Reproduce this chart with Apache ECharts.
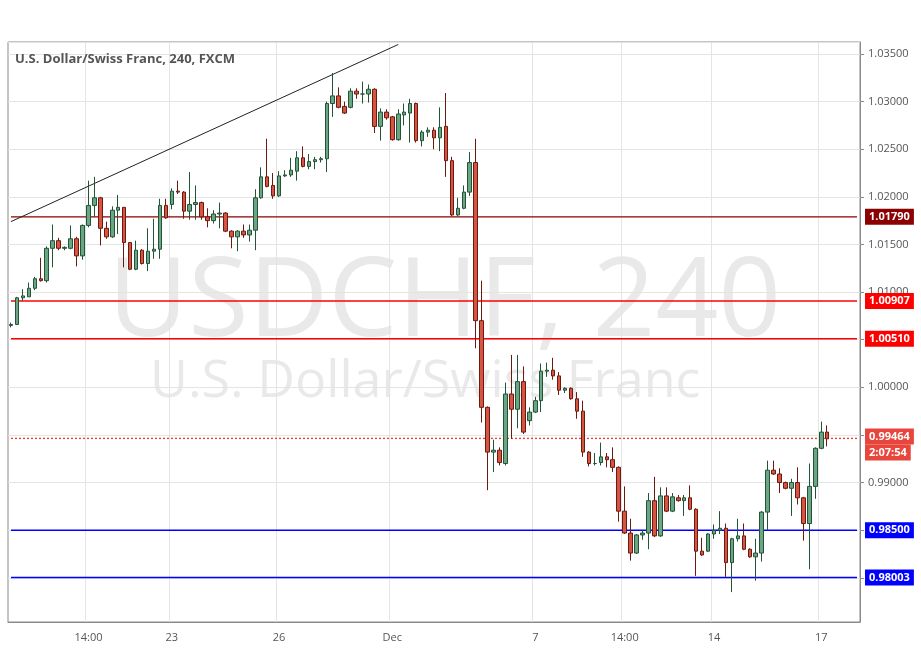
<!DOCTYPE html>
<html>
<head>
<meta charset="utf-8">
<script src="https://cdn.jsdelivr.net/npm/echarts@6/dist/echarts.min.js"></script>
<style>html,body{margin:0;padding:0;background:#fff;}#main{width:921px;height:651px;}</style>
</head>
<body>
<div id="main"></div>
<script>
// 4h candles: [open, close, low, high]
var candles = [
[1.0065,1.0066,1.0063,1.0068],[1.0066,1.0094,1.0066,1.0095],[1.0094,1.0096,1.0091,1.0103],[1.0095,1.0104,1.0095,1.0110],
[1.0104,1.0114,1.0102,1.0116],[1.0114,1.0112,1.0111,1.0136],[1.0112,1.0146,1.0110,1.0148],[1.0146,1.0154,1.0126,1.0171],
[1.0154,1.0146,1.0144,1.0157],[1.0146,1.0147,1.0144,1.0148],[1.0146,1.0156,1.0145,1.0170],[1.0156,1.0138,1.0127,1.0158],
[1.0138,1.0170,1.0134,1.0171],[1.0170,1.0191,1.0168,1.0217],[1.0191,1.0199,1.0179,1.0221],[1.0199,1.0167,1.0149,1.0200],
[1.0167,1.0158,1.0156,1.0174],[1.0158,1.0186,1.0157,1.0190],[1.0186,1.0189,1.0161,1.0202],[1.0189,1.0152,1.0126,1.0189],
[1.0152,1.0124,1.0123,1.0152],[1.0124,1.0144,1.0123,1.0154],[1.0144,1.0130,1.0129,1.0145],[1.0130,1.0143,1.0122,1.0167],
[1.0143,1.0145,1.0135,1.0177],[1.0145,1.0191,1.0135,1.0198],[1.0191,1.0178,1.0177,1.0198],[1.0192,1.0206,1.0187,1.0209],
[1.0206,1.0205,1.0203,1.0217],[1.0205,1.0185,1.0177,1.0206],[1.0185,1.0192,1.0176,1.0226],[1.0192,1.0194,1.0176,1.0212],
[1.0194,1.0179,1.0176,1.0195],[1.0179,1.0175,1.0168,1.0188],[1.0175,1.0182,1.0172,1.0186],[1.0182,1.0183,1.0167,1.0194],
[1.0183,1.0164,1.0163,1.0184],[1.0164,1.0158,1.0146,1.0165],[1.0158,1.0164,1.0143,1.0165],[1.0164,1.0160,1.0157,1.0171],
[1.0160,1.0165,1.0153,1.0171],[1.0165,1.0199,1.0144,1.0208],[1.0199,1.0221,1.0198,1.0231],[1.0221,1.0211,1.0210,1.0261],
[1.0212,1.0201,1.0198,1.0225],[1.0201,1.0222,1.0200,1.0227],[1.0222,1.0223,1.0221,1.0228],[1.0223,1.0228,1.0221,1.0241],
[1.0227,1.0241,1.0217,1.0248],[1.0241,1.0232,1.0231,1.0253],[1.0232,1.0237,1.0229,1.0245],[1.0237,1.0239,1.0229,1.0242],
[1.0239,1.0240,1.0236,1.0242],[1.0240,1.0298,1.0226,1.0300],[1.0298,1.0306,1.0284,1.0330],[1.0306,1.0294,1.0293,1.0315],
[1.0295,1.0288,1.0287,1.0300],[1.0294,1.0311,1.0293,1.0314],[1.0311,1.0308,1.0303,1.0314],[1.0308,1.0308,1.0298,1.0321],
[1.0308,1.0313,1.0299,1.0318],[1.0313,1.0274,1.0267,1.0314],[1.0274,1.0289,1.0259,1.0293],[1.0289,1.0283,1.0281,1.0292],
[1.0284,1.0260,1.0259,1.0285],[1.0260,1.0287,1.0259,1.0292],[1.0286,1.0289,1.0275,1.0298],[1.0288,1.0298,1.0257,1.0303],
[1.0298,1.0259,1.0257,1.0299],[1.0259,1.0268,1.0253,1.0270],[1.0268,1.0270,1.0263,1.0273],[1.0270,1.0262,1.0250,1.0273],
[1.0262,1.0273,1.0248,1.0294],[1.0274,1.0238,1.0221,1.0309],[1.0238,1.0181,1.0180,1.0242],[1.0181,1.0188,1.0180,1.0199],
[1.0188,1.0205,1.0187,1.0212],[1.0205,1.0236,1.0201,1.0247],[1.0236,1.0070,1.0041,1.0261],[1.0070,0.9979,0.9963,1.0112],
[0.9979,0.9932,0.9892,0.9980],[0.9932,0.9934,0.9911,0.9945],[0.9934,0.9921,0.9918,0.9937],[0.9920,0.9993,0.9918,1.0005],
[0.9993,0.9977,0.9946,1.0034],[0.9977,1.0006,0.9957,1.0034],[1.0006,0.9953,0.9951,1.0022],[0.9965,0.9974,0.9960,0.9979],
[0.9974,0.9986,0.9973,0.9990],[0.9986,1.0017,0.9974,1.0025],[1.0017,1.0018,1.0011,1.0026],[1.0018,1.0012,1.0008,1.0031],
[1.0012,0.9997,0.9992,1.0016],[0.9997,0.9999,0.9994,1.0000],[0.9999,0.9988,0.9987,1.0000],[0.9988,0.9975,0.9967,0.9995],
[0.9975,0.9932,0.9927,0.9986],[0.9932,0.9920,0.9917,0.9933],[0.9920,0.9920,0.9918,0.9931],[0.9921,0.9927,0.9918,0.9942],
[0.9927,0.9924,0.9916,0.9931],[0.9924,0.9916,0.9911,0.9937],[0.9916,0.9870,0.9859,0.9917],[0.9870,0.9847,0.9846,0.9896],
[0.9847,0.9826,0.9818,0.9862],[0.9826,0.9845,0.9825,0.9846],[0.9845,0.9847,0.9840,0.9850],[0.9847,0.9881,0.9830,0.9889],
[0.9881,0.9844,0.9843,0.9906],[0.9844,0.9886,0.9843,0.9895],[0.9886,0.9870,0.9869,0.9895],[0.9870,0.9885,0.9869,0.9889],
[0.9884,0.9881,0.9880,0.9887],[0.9881,0.9884,0.9865,0.9887],[0.9884,0.9872,0.9871,0.9897],[0.9872,0.9828,0.9802,0.9873],
[0.9828,0.9824,0.9823,0.9842],[0.9828,0.9846,0.9827,0.9847],[0.9846,0.9850,0.9841,0.9856],[0.9850,0.9852,0.9846,0.9870],
[0.9852,0.9816,0.9801,0.9857],[0.9816,0.9841,0.9785,0.9842],[0.9841,0.9844,0.9838,0.9862],[0.9844,0.9830,0.9829,0.9857],
[0.9830,0.9822,0.9821,0.9831],[0.9822,0.9826,0.9797,0.9841],[0.9826,0.9869,0.9817,0.9870],[0.9869,0.9913,0.9850,0.9923],
[0.9913,0.9909,0.9908,0.9923],[0.9909,0.9900,0.9889,0.9915],[0.9900,0.9894,0.9893,0.9901],[0.9894,0.9900,0.9865,0.9904],
[0.9900,0.9884,0.9877,0.9916],[0.9884,0.9857,0.9839,0.9885],[0.9857,0.9896,0.9809,0.9920],[0.9896,0.9936,0.9883,0.9937],
[0.9936,0.9953,0.9935,0.9964],[0.9953,0.9946,0.9938,0.9960]
];
var padSlots = 5;
var timeLabels = {13:'14:00', 27:'23', 45:'26', 64:'Dec', 88:'7', 103:'14:00', 118:'14', 136:'17'};
var levelValues = [1.0179, 1.00907, 1.0051, 0.9850, 0.98003];
var levelColors = ['#8b0000', '#ff0000', '#ff0000', '#0000ff', '#0000ff'];
var lastPrice = 0.99464;
var countdown = '2:07:54';
var trendStart = [0, 1.0174];
var trendEnd = [65, 1.0360];

var categories = [];
for (var i = 0; i < candles.length + padSlots; i++) categories.push(String(i));
var lastCat = categories.length - 1;

function levelSeries(v, col, dash, labelFmt, rich) {
	return {
		type : 'line', z : 4, silent : true, showSymbol : false, symbol : 'none', color : col,
		data : [[0, v], [lastCat, v]],
		lineStyle : { color : col, width : 1.4, type : dash },
		endLabel : {
			show : true, formatter : labelFmt, distance : 8,
			color : '#fff', backgroundColor : rich ? 'transparent' : col, padding : rich ? [12, 0, 0, 0] : [3, 4, 2, 4],
			fontSize : 11, fontWeight : 'bold', rich : rich
		},
		emphasis : { disabled : true }
	};
}

var series = [ {
	type : 'candlestick',
	data : candles,
	barWidth : 4,
	z : 5,
	itemStyle : {
		color : '#6ba583', color0 : '#d75442',
		borderColor : '#225437', borderColor0 : '#6b1a10', borderWidth : 1
	},
	markLine : {
		symbol : ['none', 'none'], silent : true, animation : false,
		lineStyle : { color : '#222', width : 1, type : 'solid' },
		label : { show : false },
		data : [ [ { coord : trendStart }, { coord : trendEnd } ] ]
	}
} ];
for (var k = 0; k < levelValues.length; k++) {
	series.push(levelSeries(levelValues[k], levelColors[k], 'solid', levelValues[k].toFixed(5)));
}
var tagStyle = { color : '#fff', backgroundColor : '#e8453c', padding : [3, 4, 2, 4], fontSize : 11, fontWeight : 'bold' };
series.push(levelSeries(lastPrice, '#e8453c', [2, 2], '{a|' + lastPrice.toFixed(5) + '}\n{b|' + countdown + '}', { a : tagStyle, b : tagStyle }));

var chart = echarts.init(document.getElementById('main'));
var option = {
	backgroundColor : '#fff',
	animation : false,
	textStyle : { fontFamily : 'Open Sans' },
	grid : { left : 8, right : 61, top : 42, bottom : 29, show : true, borderColor : '#8a8a8a', borderWidth : 1 },
	graphic : [
		{ type : 'text', left : 108, top : 250, z : 0, silent : true,
		  style : { text : 'USDCHF, 240', fontSize : 110, fontFamily : 'Open Sans', fill : 'rgba(200,200,200,0.4)' } },
		{ type : 'text', left : 150, top : 356, z : 0, silent : true,
		  style : { text : 'U.S. Dollar/Swiss Franc', fontSize : 52, fontFamily : 'Open Sans', fill : 'rgba(200,200,200,0.4)' } },
		{ type : 'text', left : 15, top : 53, z : 10,
		  style : { text : 'U.S. Dollar/Swiss Franc, 240, FXCM', fontSize : 13, fontWeight : 'bold', fontFamily : 'Open Sans', fill : '#555' } }
	],
	xAxis : {
		type : 'category',
		data : categories,
		boundaryGap : true,
		axisLine : { lineStyle : { color : '#8a8a8a' } },
		axisTick : { show : false },
		axisLabel : {
			interval : function (idx) { return timeLabels[idx] !== undefined; },
			formatter : function (v, idx) { return timeLabels[idx] || ''; },
			color : '#555', fontSize : 11, margin : 10
		},
		splitLine : {
			show : true,
			interval : function (idx) { return timeLabels[idx] !== undefined; },
			lineStyle : { color : '#e4e4e4' }
		}
	},
	yAxis : {
		type : 'value',
		position : 'right',
		min : 0.97536,
		max : 1.03626,
		splitNumber : 12,
		axisLine : { show : true, lineStyle : { color : '#8a8a8a' } },
		axisTick : { show : true, length : 4, lineStyle : { color : '#8a8a8a' } },
		axisLabel : {
			color : '#555', fontSize : 11, margin : 8, showMinLabel : false, showMaxLabel : false,
			formatter : function (v) { return v.toFixed(5); }
		},
		splitLine : { lineStyle : { color : '#e4e4e4' } }
	},
	series : series
};
chart.setOption(option);
</script>
</body>
</html>
